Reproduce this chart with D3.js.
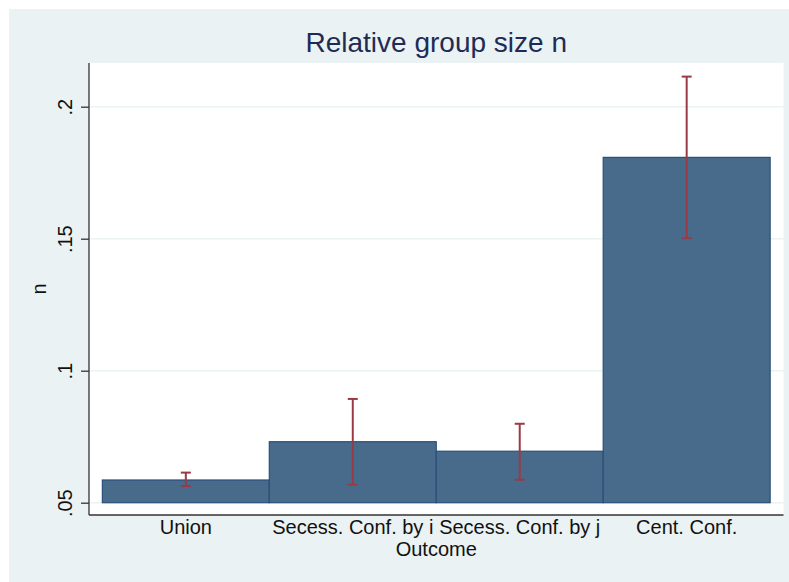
<!DOCTYPE html>
<html>
<head>
<meta charset="utf-8">
<script src="https://cdn.jsdelivr.net/npm/d3@7"></script>
<style>
  html, body { margin: 0; padding: 0; background: #ffffff; }
  svg { display: block; font-family: "Liberation Sans", Arial, sans-serif; }
</style>
</head>
<body>
<svg id="chart" width="789" height="582"></svg>
<script>
// Outcome categories and estimated relative group size with 95% interval
const categories = ["Union", "Secess. Conf. by i", "Secess. Conf. by j", "Cent. Conf."];
const values     = [0.0586, 0.0731, 0.0695, 0.1808];
const ciLower    = [0.0563, 0.0568, 0.0587, 0.1502];
const ciUpper    = [0.0614, 0.0893, 0.0799, 0.2114];
const yTicks      = [0.05, 0.10, 0.15, 0.20];
const yTickLabels = [".05", ".1", ".15", ".2"];
const baseValue = 0.05;

const W = 789, H = 582;
const plot = { left: 89, top: 63, right: 783.5, bottom: 515 };

const svg = d3.select("#chart");

// outer panel
svg.append("rect")
  .attr("x", 9).attr("y", 9)
  .attr("width", W - 9).attr("height", H - 9)
  .attr("fill", "#eaf2f3");

// plot region
svg.append("rect")
  .attr("x", plot.left).attr("y", plot.top)
  .attr("width", plot.right - plot.left).attr("height", plot.bottom - plot.top)
  .attr("fill", "#ffffff");

const x = d3.scaleBand()
  .domain(categories)
  .range([plot.left, plot.right])
  .paddingInner(0)
  .paddingOuter(0.08);

const y = d3.scaleLinear()
  .domain([0.04534, 0.21655])
  .range([plot.bottom, plot.top]);

// horizontal grid lines
svg.append("g")
  .selectAll("line")
  .data(yTicks)
  .join("line")
  .attr("x1", plot.left).attr("x2", plot.right)
  .attr("y1", d => y(d)).attr("y2", d => y(d))
  .attr("stroke", "#eaf2f3")
  .attr("stroke-width", 1.5);

// bars rising from the base value
const data = categories.map((c, i) => ({ c, v: values[i], lo: ciLower[i], hi: ciUpper[i] }));

svg.append("g")
  .selectAll("rect")
  .data(data)
  .join("rect")
  .attr("x", d => x(d.c))
  .attr("width", x.bandwidth())
  .attr("y", d => y(d.v))
  .attr("height", d => y(baseValue) - y(d.v))
  .attr("fill", "#486b8c")
  .attr("stroke", "#2a4f78")
  .attr("stroke-width", 1.2);

// confidence intervals
const ci = svg.append("g")
  .attr("stroke", "#983b46")
  .attr("stroke-width", 2)
  .attr("fill", "none");
const capHalf = 5;
ci.selectAll("line.stem")
  .data(data)
  .join("line")
  .attr("class", "stem")
  .attr("x1", d => x(d.c) + x.bandwidth() / 2)
  .attr("x2", d => x(d.c) + x.bandwidth() / 2)
  .attr("y1", d => y(d.lo))
  .attr("y2", d => y(d.hi));
ci.selectAll("line.capHi")
  .data(data)
  .join("line")
  .attr("class", "capHi")
  .attr("x1", d => x(d.c) + x.bandwidth() / 2 - capHalf)
  .attr("x2", d => x(d.c) + x.bandwidth() / 2 + capHalf)
  .attr("y1", d => y(d.hi)).attr("y2", d => y(d.hi));
ci.selectAll("line.capLo")
  .data(data)
  .join("line")
  .attr("class", "capLo")
  .attr("x1", d => x(d.c) + x.bandwidth() / 2 - capHalf)
  .attr("x2", d => x(d.c) + x.bandwidth() / 2 + capHalf)
  .attr("y1", d => y(d.lo)).attr("y2", d => y(d.lo));

// y axis
const yAxis = d3.axisLeft(y)
  .tickValues(yTicks)
  .tickFormat((d, i) => yTickLabels[i])
  .tickSize(8)
  .tickPadding(9);
const gy = svg.append("g")
  .attr("transform", `translate(${plot.left},0)`)
  .call(yAxis);
gy.select(".domain")
  .attr("d", `M0,${plot.top}V${plot.bottom}`)
  .attr("stroke", "#333333").attr("stroke-width", 1.3);
gy.selectAll(".tick line").attr("stroke", "#333333").attr("stroke-width", 1.3);
gy.selectAll(".tick text")
  .attr("font-size", 20)
  .attr("fill", "#111111")
  .attr("text-anchor", "middle")
  .attr("dy", 0)
  .attr("x", 0)
  .attr("transform", "translate(-17,0) rotate(-90)");

// x axis
const xAxis = d3.axisBottom(x).tickSize(0).tickPadding(5);
const gx = svg.append("g")
  .attr("transform", `translate(0,${plot.bottom})`)
  .call(xAxis);
gx.select(".domain")
  .attr("d", `M${plot.left},0H${plot.right}`)
  .attr("stroke", "#333333").attr("stroke-width", 1.3);
gx.selectAll(".tick text")
  .attr("font-size", 20)
  .attr("fill", "#111111");

// axis titles
svg.append("text")
  .attr("x", (plot.left + plot.right) / 2)
  .attr("y", 556)
  .attr("text-anchor", "middle")
  .attr("font-size", 20)
  .attr("fill", "#111111")
  .text("Outcome");

svg.append("text")
  .attr("transform", `translate(46,${(plot.top + plot.bottom) / 2}) rotate(-90)`)
  .attr("text-anchor", "middle")
  .attr("font-size", 20)
  .attr("fill", "#111111")
  .text("n");

// title
svg.append("text")
  .attr("x", (plot.left + plot.right) / 2)
  .attr("y", 52)
  .attr("text-anchor", "middle")
  .attr("font-size", 28)
  .attr("fill", "#1e2c55")
  .text("Relative group size n");
</script>
</body>
</html>
